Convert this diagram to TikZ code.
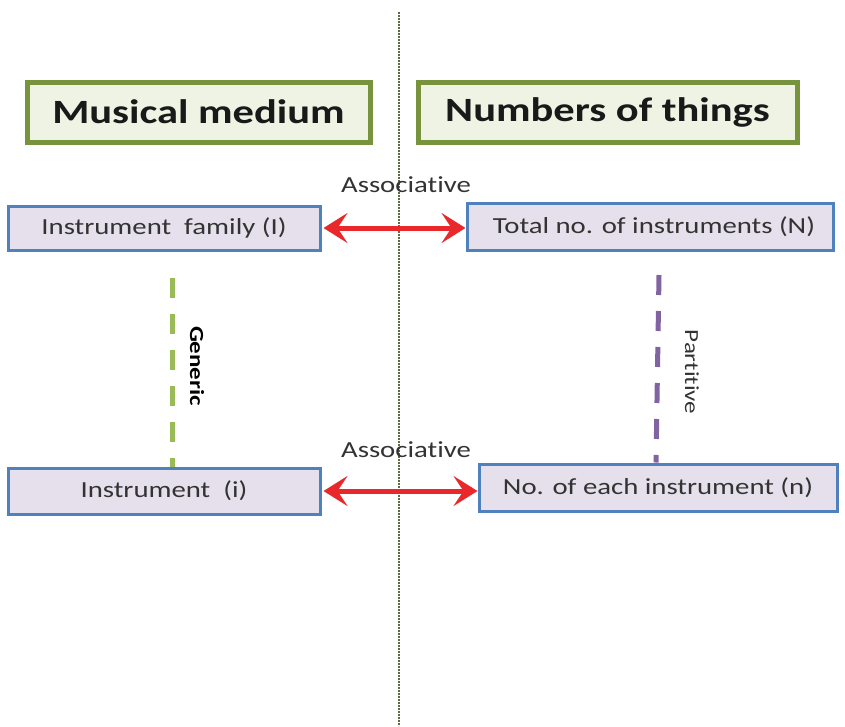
\documentclass[tikz,border=0pt]{standalone}
\usepackage{fontspec}
\setmainfont[FakeStretch=1.25,Ligatures=NoCommon]{Carlito}
\usetikzlibrary{arrows.meta}
\definecolor{titleborder}{HTML}{77933C}
\definecolor{titlefill}{HTML}{EEF3E4}
\definecolor{boxborder}{HTML}{4F81BD}
\definecolor{boxfill}{HTML}{E6E0EC}
\definecolor{arrowred}{HTML}{E8282B}
\definecolor{genericgreen}{HTML}{9BBB59}
\definecolor{partpurple}{HTML}{8064A2}
\definecolor{divider}{HTML}{5C6B40}
\tikzset{
  titlebox/.style={draw=titleborder, line width=5pt, fill=titlefill, inner sep=0pt, font=\fontsize{34}{40}\selectfont\bfseries, text=black!90},
  conceptbox/.style={draw=boxborder, line width=3pt, fill=boxfill, inner sep=0pt, font=\fontsize{23}{28}\selectfont, text=black!80},
  assoc/.style={arrowred, line width=5pt, {Stealth[length=24pt,width=30pt,inset=10pt]}-{Stealth[length=24pt,width=30pt,inset=10pt]}},
  assoclabel/.style={font=\fontsize{23}{26}\selectfont, text=black!80},
  relline/.style={line width=5pt, dash pattern=on 20pt off 16pt},
}
\begin{document}
\begin{tikzpicture}[x=1pt,y=-1pt]
\useasboundingbox (0,0) rectangle (845,726);
\fill[white] (0,0) rectangle (845,726);
% divider
\coordinate (dtop) at (399,12);
\coordinate (dbot) at (399,726);
\draw[divider, line width=1.6pt, dash pattern=on 1.6pt off 1.4pt] (dtop) -- (dbot);
% titles
\node[titlebox, minimum width=343pt, minimum height=60pt] (mm) at (198.5,112) {Musical medium};
\node[titlebox, minimum width=379pt, minimum height=60pt] (nt) at (607.5,112) {Numbers of things};
% concept boxes
\node[conceptbox, minimum width=312pt, minimum height=44pt] (fam) at (164,228) {Instrument\ \ family (I)};
\node[conceptbox, minimum width=366pt, minimum height=47pt] (tot) at (650,226.5) {\hspace{8pt}Total no. of instruments (N)};
\node[conceptbox, minimum width=312pt, minimum height=46pt] (ins) at (164,491) {Instrument\ \ (i)};
\node[conceptbox, minimum width=358pt, minimum height=47pt] (each) at (658,487.5) {No. of each instrument (n)};
% associative arrows
\draw[assoc] (fam.east) ++(2,0) coordinate (a1) -- (tot.west |- a1) coordinate (a2);
\node[assoclabel] (as1) at (406,185) {Associative};
\draw[assoc] (ins.east) ++(2,0) coordinate (b1) -- (each.west |- b1) coordinate (b2);
\node[assoclabel] (as2) at (406,450) {Associative};
% generic
\coordinate (g1) at (172,278);
\draw[genericgreen, relline] (g1) -- (g1 |- ins.north);
\node[rotate=-90, font=\fontsize{20}{22}\selectfont\bfseries] (gen) at (197,366) {Generic};
% partitive
\coordinate (p1) at (659,275);
\draw[partpurple, relline] (p1) -- (656,0 |- each.north);
\node[rotate=-90, font=\fontsize{20}{22}\selectfont, text=black!80] (par) at (692,372) {Partitive};
\end{tikzpicture}
\end{document}
